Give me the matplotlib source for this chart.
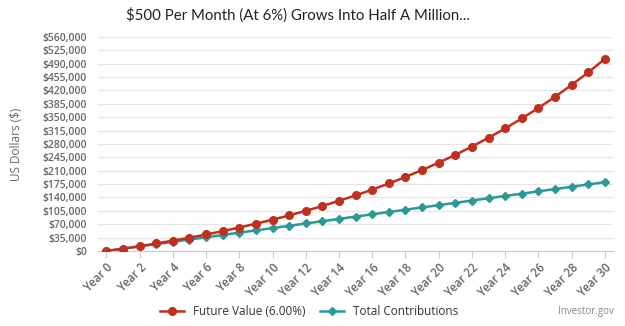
import matplotlib

matplotlib.use("Agg")
import matplotlib.pyplot as plt
from matplotlib.lines import Line2D
from matplotlib.ticker import FuncFormatter, MultipleLocator

plt.rcParams["font.family"] = ["Open Sans", "DejaVu Sans"]

YEARS = list(range(31))
FUTURE_VALUE = [
    0, 6168, 12716, 19668, 27047, 34885, 43206, 52040, 61416, 71377,
    81940, 93162, 105075, 117722, 131149, 145410, 160534, 176598, 193652, 211757,
    231020, 251383, 273046, 296044, 320459, 346500, 373897, 403110, 434124, 467049,
    502258,
]
CONTRIBUTIONS = [
    0, 6000, 12000, 18000, 24000, 30000, 36000, 42000, 48000, 54000,
    60000, 66000, 72000, 78000, 84000, 90000, 96000, 102000, 108000, 114000,
    120000, 126000, 132000, 138000, 144000, 150000, 156000, 162000, 168000, 174000,
    180000,
]
X_LABELS = [f"Year {y}" for y in YEARS[::2]]

RED = "#c0301f"
TEAL = "#2a9a96"
GRAY = "#666666"

fig = plt.figure(figsize=(6.25, 3.26), dpi=100)
ax = fig.add_axes([0.157, 0.230, 0.824, 0.657])

ax.plot(YEARS, CONTRIBUTIONS, color=TEAL, lw=1.8, marker="D", ms=4.2, zorder=3)
ax.plot(YEARS, FUTURE_VALUE, color=RED, lw=1.8, marker="o", ms=5.5, zorder=4)

ax.set_xlim(-0.5, 30.5)
ax.set_ylim(0, 560000)
ax.yaxis.set_major_locator(MultipleLocator(35000))
ax.yaxis.set_major_formatter(FuncFormatter(lambda v, _: f"${v:,.0f}"))
ax.set_xticks(YEARS[::2])
ax.set_xticklabels(X_LABELS, rotation=45, ha="right", rotation_mode="anchor")

ax.grid(axis="y", color="#e6e6e6", lw=0.9)
ax.set_axisbelow(True)
for side in ("top", "right", "left"):
    ax.spines[side].set_visible(False)
ax.spines["bottom"].set_color("#cccccc")
ax.tick_params(axis="y", length=0, labelsize=7.5, labelcolor=GRAY, pad=8)
ax.tick_params(axis="x", length=5, color="#cccccc", labelsize=8.3, labelcolor=GRAY, pad=2)
for lbl in ax.get_xticklabels() + ax.get_yticklabels():
    lbl.set_fontweight("semibold")

ax.set_ylabel("US Dollars ($)", fontsize=8.5, color=GRAY, labelpad=14)

fig.text(0.476, 0.953, "$500 Per Month (At 6%) Grows Into Half A Million...",
         ha="center", va="center", fontsize=10.8, color="#222222",
         family=["Lato", "DejaVu Sans"])

handles = [
    Line2D([], [], color=RED, lw=1.8, marker="o", ms=5.5),
    Line2D([], [], color=TEAL, lw=1.8, marker="D", ms=4.2),
]
fig.legend(handles, ["Future Value (6.00%)", "Total Contributions"],
           loc="center", bbox_to_anchor=(0.495, 0.043), ncol=2, frameon=False,
           fontsize=8.5, handlelength=2.0, columnspacing=1.2,
           labelcolor="#333333")
fig.text(0.982, 0.043, "Investor.gov", ha="right", va="center",
         fontsize=7, color="#888888")

fig.savefig("out.png", dpi=100)
